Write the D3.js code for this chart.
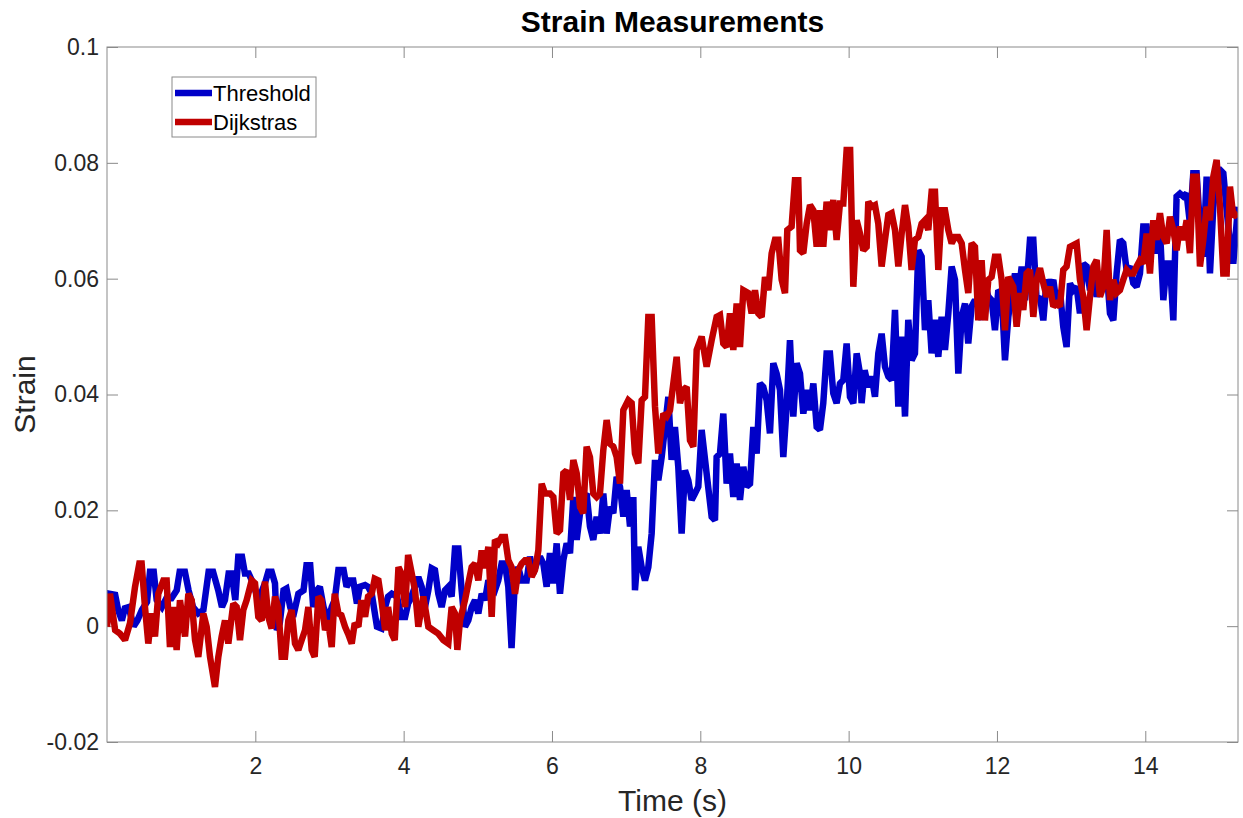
<!DOCTYPE html>
<html>
<head>
<meta charset="utf-8">
<script src="https://cdn.jsdelivr.net/npm/d3@7"></script>
<style>
  body { margin: 0; background: #fff; }
  svg { font-family: "Liberation Sans", Arial, Helvetica, sans-serif; }
</style>
</head>
<body>
<div id="chart"></div>
<script>
// [time (s), strain]
const thresholdPoints = [
  [0,0.0005],[0.03,0.0056],[0.11,0.0054],[0.15,0.0028],[0.20,0.0010],[0.24,0.0031],[0.29,0.0033],[0.36,0.0000],[0.41,0.0010],[0.47,0.0028],
  [0.54,0.0042],[0.58,0.0094],[0.63,0.0094],[0.67,0.0045],[0.74,0.0033],[0.80,0.0048],[0.87,0.0048],[0.94,0.0062],[0.98,0.0094],[1.05,0.0094],
  [1.10,0.0062],[1.16,0.0033],[1.23,0.0022],[1.30,0.0028],[1.37,0.0094],[1.43,0.0094],[1.50,0.0062],[1.55,0.0033],[1.59,0.0045],[1.64,0.0091],
  [1.68,0.0091],[1.73,0.0045],[1.77,0.0120],[1.82,0.0120],[1.86,0.0091],[1.91,0.0091],[1.97,0.0074],[2.04,0.0045],
  [2.13,0.0074],[2.175,0.0094],[2.22,0.0094],[2.265,0.0074],[2.29,-0.0007],[2.33,0.0005],[2.38,0.0062],[2.42,0.0065],[2.47,0.0033],[2.51,0.0016],
  [2.58,0.0056],[2.65,0.0062],[2.69,0.0105],[2.74,0.0105],[2.78,0.0033],[2.83,0.0062],[2.87,0.0068],[2.92,0.0033],[2.985,0.0010],[3.03,0.0033],
  [3.07,0.0045],[3.12,0.0097],[3.19,0.0097],[3.23,0.0068],[3.28,0.0079],[3.32,0.0079],[3.37,0.0039],[3.41,0.0068],[3.48,0.0071],[3.52,0.0068],
  [3.57,0.0056],[3.64,-0.0001],[3.70,-0.0004],[3.75,0.0033],[3.79,0.0051],[3.84,0.0056],[3.91,0.0051],[3.97,0.0016],[4.02,0.0016],[4.06,0.0039],
  [4.085,0.0045],[4.153,0.0068],[4.198,0.0085],[4.243,0.0068],[4.288,0.0033],[4.333,0.0062],[4.378,0.0100],[4.422,0.0097],[4.467,0.0056],[4.512,0.0033],
  [4.557,0.0062],[4.602,0.0068],[4.647,0.0051],[4.692,0.0134],[4.737,0.0134],[4.782,0.0062],[4.827,-0.0001],[4.872,0.0010],[4.917,0.0033],[4.962,0.0045],
  [5.007,0.0022],[5.052,0.0056],[5.097,0.0045],[5.142,0.0079],[5.187,0.0068],[5.231,0.0062],[5.276,0.0079],[5.321,0.0108],[5.366,0.0108],[5.411,0.0068],
  [5.455,-0.0038],[5.50,0.0079],[5.545,0.0102],[5.590,0.0079],[5.658,0.0079],[5.703,0.0120],[5.748,0.0091],[5.793,0.0108],[5.838,0.0120],[5.883,0.0108],
  [5.928,0.0068],
  [5.973,0.0126],[6.018,0.0074],[6.063,0.0143],[6.108,0.0056],[6.153,0.0114],[6.198,0.0143],[6.243,0.0126],[6.288,0.0223],[6.333,0.0149],[6.378,0.0195],
  [6.422,0.0223],[6.467,0.0229],[6.512,0.0172],[6.557,0.0149],[6.602,0.0189],[6.647,0.0160],[6.692,0.0229],[6.737,0.0160],[6.782,0.0206],[6.827,0.0195],
  [6.872,0.0258],[6.917,0.0241],[6.962,0.0189],[7.007,0.0235],[7.052,0.0172],[7.097,0.0223],[7.119,0.0062],[7.164,0.0137],[7.209,0.0102],[7.254,0.0079],
  [7.299,0.0102],[7.344,0.0160],[7.389,0.0287],[7.434,0.0252],[7.479,0.0292],[7.524,0.0344],[7.569,0.0396],[7.613,0.0287],[7.658,0.0344],[7.703,0.0275],
  [7.748,0.0160],[7.793,0.0269],[7.838,0.0252],[7.883,0.0218],[7.928,0.0229],[7.973,0.0241],[8.018,0.0339],
  [8.085,0.0264],[8.153,0.0189],[8.198,0.0183],[8.22,0.0292],[8.265,0.0298],[8.31,0.0367],[8.355,0.0246],[8.40,0.0298],[8.445,0.0223],[8.49,0.0281],
  [8.535,0.0218],[8.58,0.0275],[8.625,0.0241],[8.67,0.0246],[8.715,0.0344],[8.76,0.0298],[8.804,0.0419],[8.849,0.0413],[8.894,0.0390],[8.939,0.0333],
  [8.984,0.0454],[9.029,0.0436],[9.074,0.0408],[9.119,0.0292],[9.164,0.0379],[9.209,0.0494],[9.254,0.0362],[9.299,0.0454],[9.344,0.0436],[9.389,0.0367],
  [9.434,0.0408],[9.479,0.0373],[9.524,0.0419],[9.569,0.0344],[9.613,0.0339],[9.658,0.0385],[9.703,0.0471],[9.748,0.0471],[9.793,0.0402],[9.838,0.0385],
  [9.883,0.0419],[9.928,0.0425],[9.973,0.0488],[10.018,0.0396],[10.063,0.0385],[10.108,0.0471],[10.153,0.0436],
  [10.175,0.0385],[10.216,0.0442],[10.265,0.0413],[10.31,0.0431],[10.355,0.0396],[10.40,0.0471],[10.445,0.0505],[10.49,0.0448],[10.535,0.0431],[10.58,0.0425],
  [10.625,0.0546],[10.67,0.0379],[10.715,0.0500],[10.76,0.0362],[10.804,0.0529],[10.849,0.0459],[10.894,0.0471],[10.939,0.0649],[10.984,0.0638],[11.029,0.0511],
  [11.074,0.0563],[11.119,0.0471],[11.164,0.0529],[11.209,0.0465],[11.254,0.0534],[11.299,0.0477],[11.344,0.0540],[11.389,0.0621],[11.434,0.0598],[11.479,0.0436],
  [11.524,0.0534],[11.569,0.0557],[11.613,0.0488],[11.658,0.0552],[11.703,0.0563],[11.748,0.0552],[11.793,0.0529],[11.838,0.0592],[11.883,0.0569],[11.928,0.0563],
  [11.973,0.0511],[12.018,0.0580],[12.063,0.0575],[12.108,0.0459],[12.153,0.0534],
  [12.198,0.0575],[12.243,0.0609],[12.288,0.0569],[12.333,0.0621],[12.378,0.0563],[12.422,0.0626],[12.445,0.0667],[12.49,0.0667],[12.535,0.0563],[12.58,0.0569],
  [12.625,0.0528],[12.67,0.0598],[12.715,0.0586],[12.76,0.0598],[12.804,0.0557],[12.849,0.0580],[12.894,0.0517],[12.939,0.0482],[12.984,0.0592],[13.029,0.0580],
  [13.074,0.0586],[13.119,0.0540],[13.164,0.0626],[13.209,0.0621],[13.254,0.0580],[13.299,0.0598],[13.344,0.0569],[13.389,0.0592],[13.434,0.0609],[13.479,0.0615],
  [13.524,0.0540],[13.569,0.0528],[13.613,0.0609],[13.658,0.0667],[13.703,0.0661],[13.748,0.0615],[13.793,0.0621],
  [13.838,0.0592],[13.883,0.0586],[13.928,0.0609],[13.973,0.0690],[14.018,0.0690],[14.063,0.0638],[14.108,0.0667],[14.153,0.0644],[14.198,0.0684],[14.243,0.0563],
  [14.288,0.0626],[14.333,0.0626],[14.378,0.0528],[14.422,0.0742],[14.467,0.0747],[14.512,0.0742],[14.557,0.0747],[14.602,0.0695],[14.647,0.0782],[14.692,0.0782],
  [14.737,0.0690],[14.782,0.0638],[14.827,0.0776],[14.872,0.0609],[14.917,0.0724],[14.962,0.0788],[15.007,0.0788],[15.052,0.0782],[15.097,0.0718],[15.142,0.0661],
  [15.186,0.0626],[15.25,0.0724]
];

const dijkstrasPoints = [
  [0,-0.0001],[0.04,0.0056],[0.11,-0.0007],[0.175,-0.0013],[0.243,-0.0024],[0.31,0.0005],[0.378,0.0068],[0.436,0.0108],[0.467,0.0108],[0.512,0.0033],
  [0.557,-0.0030],[0.602,0.0022],[0.647,-0.0018],[0.692,0.0056],[0.76,0.0079],[0.804,0.0079],[0.849,-0.0036],[0.894,0.0033],[0.939,-0.0041],[0.984,0.0045],
  [1.052,-0.0018],[1.097,0.0056],[1.142,0.0045],[1.187,-0.0024],[1.231,-0.0053],[1.299,0.0022],[1.344,-0.0001],[1.389,-0.0053],[1.456,-0.0105],[1.501,-0.0053],
  [1.546,-0.0018],[1.591,0.0010],[1.636,-0.0030],[1.703,0.0039],[1.748,0.0033],[1.793,-0.0024],[1.838,0.0028],[1.883,0.0045],[1.951,0.0079],[1.996,0.0074],
  [2.04,0.0016],
  [2.085,0.0010],[2.13,0.0077],[2.175,0.0016],[2.22,-0.0004],[2.265,0.0051],[2.31,0.0033],[2.355,-0.0053],[2.40,-0.0053],[2.445,0.0010],[2.49,0.0028],
  [2.535,-0.0030],[2.58,-0.0041],[2.625,-0.0024],[2.67,-0.0007],[2.715,0.0033],[2.76,-0.0041],[2.80,-0.0053],[2.85,0.0051],[2.89,0.0045],[2.94,-0.0007],
  [2.98,0.0010],[3.03,-0.0036],[3.07,0.0056],[3.12,0.0022],[3.16,0.0019],[3.21,-0.0001],[3.25,-0.0013],[3.30,-0.0030],[3.34,0.0005],[3.39,-0.0001],
  [3.43,0.0045],[3.48,0.0016],[3.52,0.0051],[3.57,0.0056],[3.61,0.0082],[3.66,0.0079],[3.70,0.0045],[3.75,-0.0007],[3.79,0.0033],[3.84,-0.0013],
  [3.88,-0.0024],[3.93,0.0102],[3.97,0.0091],[4.02,0.0033],[4.06,0.0123],
  [4.153,0.0062],[4.198,-0.0001],[4.265,0.0051],[4.333,-0.0001],[4.40,-0.0007],[4.467,-0.0013],[4.535,-0.0024],[4.602,-0.0030],[4.647,0.0033],[4.692,0.0022],
  [4.724,-0.0041],[4.76,0.0010],[4.827,0.0045],[4.872,0.0074],[4.917,0.0102],[4.962,0.0108],[5.007,0.0079],[5.052,0.0131],[5.097,0.0100],[5.142,0.0137],
  [5.187,0.0016],[5.231,0.0149],[5.276,0.0143],[5.321,0.0154],[5.366,0.0154],[5.411,0.0114],[5.456,0.0102],[5.501,0.0056],[5.546,0.0097],[5.591,0.0108],
  [5.636,0.0114],[5.681,0.0114],[5.726,0.0085],[5.771,0.0097],[5.816,0.0131],[5.861,0.0246],[5.906,0.0229],
  [5.973,0.0229],[6.018,0.0223],[6.063,0.0160],[6.108,0.0166],[6.153,0.0264],[6.198,0.0269],[6.243,0.0218],[6.288,0.0287],[6.333,0.0264],[6.378,0.0206],
  [6.422,0.0195],[6.467,0.0310],[6.512,0.0292],[6.557,0.0229],[6.602,0.0223],[6.647,0.0229],[6.692,0.0304],[6.737,0.0356],[6.782,0.0315],[6.827,0.0310],
  [6.872,0.0292],[6.917,0.0246],[6.962,0.0373],[7.029,0.0390],[7.074,0.0385],[7.119,0.0298],[7.164,0.0281],[7.209,0.0390],[7.254,0.0396],[7.299,0.0534],
  [7.344,0.0534],[7.389,0.0379],[7.434,0.0298],[7.501,0.0367],[7.546,0.0362],[7.591,0.0373],[7.681,0.0465],[7.726,0.0385],[7.771,0.0408],[7.816,0.0413],
  [7.861,0.0321],[7.906,0.0310],[7.951,0.0477],[8.018,0.0500],
  [8.085,0.0448],[8.153,0.0494],[8.22,0.0534],[8.265,0.0537],[8.31,0.0488],[8.355,0.0482],[8.40,0.0540],[8.445,0.0477],[8.49,0.0557],[8.535,0.0482],
  [8.58,0.0580],[8.647,0.0575],[8.692,0.0540],[8.737,0.0580],[8.782,0.0540],[8.827,0.0534],[8.872,0.0603],[8.917,0.0580],[8.962,0.0644],[9.007,0.0667],
  [9.052,0.0667],[9.097,0.0598],[9.142,0.0575],[9.173,0.0684],[9.231,0.0690],[9.276,0.0770],[9.321,0.0770],[9.344,0.0649],[9.389,0.0644],[9.434,0.0695],
  [9.479,0.0727],[9.524,0.0718],[9.569,0.0655],[9.613,0.0718],[9.658,0.0655],[9.703,0.0733],[9.748,0.0684],[9.793,0.0736],[9.838,0.0667],[9.883,0.0730],
  [9.928,0.0730],[9.973,0.0822],[10.02,0.0822],[10.063,0.0586],[10.108,0.0701],[10.153,0.0678],
  [10.198,0.0649],[10.243,0.0655],[10.265,0.0733],[10.31,0.0724],[10.355,0.0727],[10.40,0.0695],[10.445,0.0621],[10.49,0.0667],[10.535,0.0710],[10.58,0.0713],
  [10.625,0.0684],[10.67,0.0621],[10.715,0.0678],[10.76,0.0727],[10.804,0.0690],[10.849,0.0615],[10.894,0.0667],[10.939,0.0672],[10.984,0.0695],[11.029,0.0701],
  [11.074,0.0684],[11.119,0.0750],[11.164,0.0750],[11.209,0.0615],[11.254,0.0718],[11.299,0.0718],[11.344,0.0684],[11.389,0.0661],[11.434,0.0672],[11.479,0.0672],
  [11.524,0.0661],[11.569,0.0615],[11.613,0.0575],[11.658,0.0661],[11.703,0.0655],[11.748,0.0528],[11.793,0.0632],[11.838,0.0528],[11.883,0.0598],[11.928,0.0603],
  [11.973,0.0638],[12.018,0.0638],[12.063,0.0598],[12.108,0.0511],[12.153,0.0603],
  [12.22,0.0586],[12.265,0.0517],[12.31,0.0575],[12.355,0.0546],[12.40,0.0609],[12.445,0.0615],[12.49,0.0534],[12.535,0.0598],[12.58,0.0618],[12.625,0.0592],
  [12.67,0.0569],[12.715,0.0586],[12.76,0.0552],[12.804,0.0557],[12.849,0.0552],[12.894,0.0615],[12.939,0.0621],[12.984,0.0655],[13.029,0.0658],[13.074,0.0661],
  [13.119,0.0598],[13.164,0.0569],[13.209,0.0511],[13.254,0.0569],[13.299,0.0621],[13.344,0.0632],[13.389,0.0569],[13.434,0.0586],[13.479,0.0684],[13.524,0.0563],
  [13.569,0.0598],[13.613,0.0575],[13.658,0.0580],[13.703,0.0598],[13.748,0.0615],[13.793,0.0609],
  [13.838,0.0609],[13.883,0.0621],[13.928,0.0632],[13.973,0.0626],[14.018,0.0678],[14.063,0.0609],[14.108,0.0701],[14.153,0.0667],[14.198,0.0713],[14.243,0.0672],
  [14.288,0.0661],[14.333,0.0707],[14.378,0.0684],[14.422,0.0649],[14.467,0.0690],[14.512,0.0667],[14.557,0.0701],[14.602,0.0644],[14.647,0.0776],[14.692,0.0776],
  [14.737,0.0621],[14.782,0.0667],[14.827,0.0724],[14.872,0.0701],[14.917,0.0776],[14.962,0.0805],[15.007,0.0724],[15.052,0.0609],[15.097,0.0609],[15.142,0.0759],
  [15.186,0.0707],[15.25,0.0713]
];

const seriesNames = ['Threshold', 'Dijkstras'];
const seriesColors = ['#0000c8', '#c00000'];
const xTicks = [2, 4, 6, 8, 10, 12, 14];
const yTicks = [-0.02, 0, 0.02, 0.04, 0.06, 0.08, 0.1];
const xDomain = [0, 15.25];
const yDomain = [-0.02, 0.1];

const width = 1243, height = 818;
const margin = { top: 47, right: 5, bottom: 76, left: 107 };
const plotW = width - margin.left - margin.right;
const plotH = height - margin.top - margin.bottom;
const lineWidth = 6.5;

const svg = d3.select('#chart').append('svg')
    .attr('width', width)
    .attr('height', height);

const g = svg.append('g')
    .attr('transform', `translate(${margin.left},${margin.top})`);

const x = d3.scaleLinear().domain(xDomain).range([0, plotW]);
const y = d3.scaleLinear().domain(yDomain).range([plotH, 0]);

const tickFmt = d => d === 0 ? '0' : String(+d.toFixed(2));
const tickLen = 11;

// axes: labelled bottom/left, bare ticks on top/right
const styleAxis = sel => {
    sel.select('.domain').remove();
    sel.selectAll('.tick line').attr('stroke', '#8a8a8a');
    sel.selectAll('.tick text')
        .attr('fill', '#262626')
        .style('font-size', '23px');
};

g.append('g')
    .attr('transform', `translate(0,${plotH})`)
    .call(d3.axisBottom(x).tickValues(xTicks).tickSize(-tickLen).tickPadding(16).tickFormat(tickFmt))
    .call(styleAxis);

g.append('g')
    .call(d3.axisTop(x).tickValues(xTicks).tickSize(-tickLen).tickFormat(''))
    .call(styleAxis);

g.append('g')
    .call(d3.axisLeft(y).tickValues(yTicks).tickSize(-tickLen).tickPadding(8).tickFormat(tickFmt))
    .call(styleAxis);

g.append('g')
    .attr('transform', `translate(${plotW},0)`)
    .call(d3.axisRight(y).tickValues(yTicks).tickSize(-tickLen).tickFormat(''))
    .call(styleAxis);

// clip + lines
svg.append('defs').append('clipPath').attr('id', 'plot-clip')
    .append('rect').attr('width', plotW).attr('height', plotH);

const line = d3.line()
    .x(d => x(d[0]))
    .y(d => y(d[1]));

const plotLayer = g.append('g').attr('clip-path', 'url(#plot-clip)');

[thresholdPoints, dijkstrasPoints].forEach((pts, i) => {
    plotLayer.append('path')
        .datum(pts)
        .attr('d', line)
        .attr('fill', 'none')
        .attr('stroke', seriesColors[i])
        .attr('stroke-width', lineWidth)
        .attr('stroke-linejoin', 'miter')
        .attr('stroke-miterlimit', 2);
});

// box
g.append('rect')
    .attr('width', plotW)
    .attr('height', plotH)
    .attr('fill', 'none')
    .attr('stroke', '#8a8a8a')
    .attr('stroke-width', 1);

// title and labels
svg.append('text')
    .attr('x', margin.left + plotW / 2)
    .attr('y', 32)
    .attr('text-anchor', 'middle')
    .style('font-size', '30px')
    .style('font-weight', 'bold')
    .attr('fill', '#000')
    .text('Strain Measurements');

svg.append('text')
    .attr('x', margin.left + plotW / 2)
    .attr('y', 811)
    .attr('text-anchor', 'middle')
    .style('font-size', '30px')
    .attr('fill', '#262626')
    .text('Time (s)');

svg.append('text')
    .attr('transform', `translate(35,${margin.top + plotH / 2}) rotate(-90)`)
    .attr('text-anchor', 'middle')
    .style('font-size', '30px')
    .attr('fill', '#262626')
    .text('Strain');

// legend
const legend = svg.append('g').attr('transform', 'translate(172,77)');
legend.append('rect')
    .attr('width', 144)
    .attr('height', 60)
    .attr('fill', '#fff')
    .attr('stroke', '#8a8a8a')
    .attr('stroke-width', 1);

seriesNames.forEach((name, i) => {
    const ly = 16 + i * 29;
    legend.append('line')
        .attr('x1', 3).attr('x2', 40)
        .attr('y1', ly).attr('y2', ly)
        .attr('stroke', seriesColors[i])
        .attr('stroke-width', lineWidth);
    legend.append('text')
        .attr('x', 41)
        .attr('y', ly + 8)
        .style('font-size', '22px')
        .attr('fill', '#000')
        .text(name);
});
</script>
</body>
</html>
